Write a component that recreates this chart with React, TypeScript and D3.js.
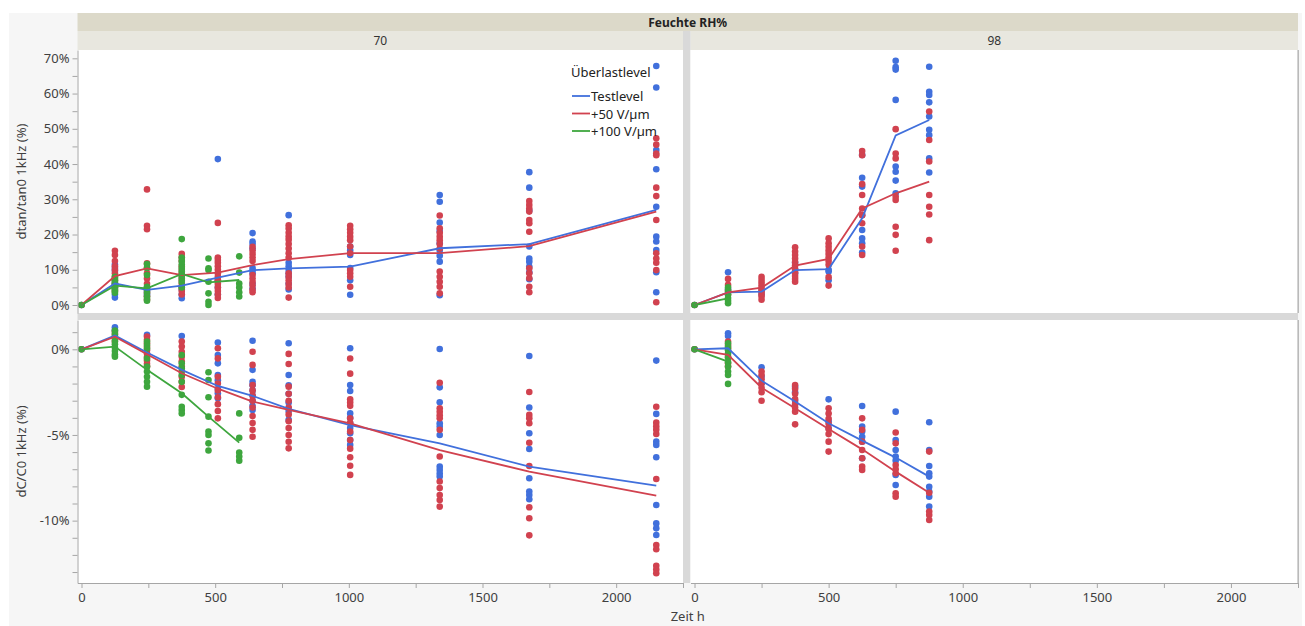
import React, { useEffect, useRef } from "react";
import * as d3 from "d3";

type Group = [number, number[]];
type Pt = [number, number];

// dtan/tan0 1kHz (%), Feuchte 70
const tan70Test: Group[] = [
  [0, [0]],
  [125, [11.5, 10.5, 9.7, 6, 5, 3, 2.1]],
  [245, [5, 4, 3]],
  [375, [4.5, 3, 1.9]],
  [510, [41.4, 7, 5, 3]],
  [640, [20.4, 18, 17.3, 16, 10.5, 9.8, 9, 6, 4.7]],
  [775, [25.5, 12, 11, 10, 9, 8, 6, 4.4]],
  [1005, [16.6, 15.5, 14.2, 10.5, 7, 2.9]],
  [1340, [31.2, 29.3, 23.4, 21, 17.5, 15.5, 14, 12.3, 2.8]],
  [1675, [37.7, 33.3, 26.8, 16.6, 13.2, 12.3, 10.9, 9.3, 7.3]],
  [2150, [67.8, 61.7, 44, 38.5, 27.9, 19.4, 18, 15.6, 9.3, 3.6]],
];
const tan70Plus50: Group[] = [
  [0, [0]],
  [125, [15.4, 14.2, 12.5, 11, 10, 9, 8, 7, 6, 5, 4]],
  [245, [32.8, 22.5, 21.5, 11.8, 10.5, 9, 7.5, 6, 4.5, 3.5, 2.5, 1.5]],
  [375, [14.5, 13.5, 12.5, 11, 10, 9, 8, 7, 6, 5, 4, 3]],
  [510, [23.3, 13.5, 12.8, 12, 11, 10, 9, 8, 7, 6, 5, 4, 3, 2]],
  [640, [16.5, 15.5, 14.5, 13.5, 12.5, 8.5, 7.5, 6.5, 5.5, 4.3, 3.6]],
  [775, [22.6, 21.7, 20.5, 19.4, 18.5, 17.3, 16, 14.7, 13.5, 9, 8, 7, 6, 5, 2.1]],
  [1005, [22.5, 21.5, 20.5, 19.4, 18.4, 16.6, 14.7, 9.9, 9, 8, 5.2]],
  [1340, [25.4, 21.8, 20.5, 19.4, 18.4, 17.3, 16, 9.5, 8, 6.6, 5.2, 3.3]],
  [1675, [29.5, 28.4, 27.4, 26.5, 24.1, 23.2, 20.8, 10.4, 9, 7.6, 5.2, 3.6]],
  [2150, [47.3, 45.5, 43, 42.5, 33.3, 30.9, 24.1, 14.7, 13.2, 12, 9.9, 0.8]],
];
const tan70Plus100: Group[] = [
  [0, [0]],
  [125, [8, 7.5, 7, 6.5, 6, 5.5, 5, 4.5, 4, 3.5]],
  [245, [11.6, 10.5, 8.5, 5.2, 4.5, 3.5, 2.5, 1.8, 1.2]],
  [375, [18.7, 13.5, 12.5, 11.5, 10.5, 9.5, 8.5, 7.5, 6.5, 5]],
  [475, [13.2, 10.4, 9.9, 6.6, 3.3, 0.9, 0]],
  [590, [13.8, 9.2, 6.1, 5, 3.6, 2.4]],
];
const tan70TestMean: Pt[] = [[0, 0], [125, 6.1], [245, 4.3], [375, 5.5], [510, 7.8], [640, 9.9], [775, 10.4], [1005, 10.9], [1340, 16.1], [1675, 17.3], [2150, 27]];
const tan70Plus50Mean: Pt[] = [[0, 0], [125, 8.2], [245, 10.4], [375, 8.5], [510, 9.2], [640, 11.3], [775, 13], [1005, 14.7], [1340, 14.7], [1675, 16.7], [2150, 26.5]];
const tan70Plus100Mean: Pt[] = [[0, 0], [125, 5.5], [245, 4.7], [375, 8.8], [475, 6.4], [590, 7.1]];

// dtan/tan0 1kHz (%), Feuchte 98
const tan98Test: Group[] = [
  [0, [0]],
  [125, [9.3, 4.5]],
  [250, [4, 3]],
  [375, [12, 10, 9]],
  [500, [10, 9.5, 7]],
  [625, [42.6, 36.1, 33.6, 25.5, 21.3, 18.9, 17.5, 14.9]],
  [750, [69.3, 67.5, 66.8, 58.2, 39.3, 37.8, 35.3, 31.7]],
  [875, [67.6, 60.5, 59.6, 57.5, 53.5, 49.7, 48.2, 41.6, 37.6]],
];
const tan98Plus50: Group[] = [
  [0, [0]],
  [125, [7.4, 5.7, 4, 3]],
  [250, [8, 7.2, 6.4, 5.6, 4.8, 4, 3.2, 2.4, 1.5]],
  [375, [16.4, 15.2, 14.2, 13.2, 12.2, 11.2, 10.2, 9.2, 8.2, 7.4, 6.6]],
  [500, [18.9, 17.5, 16.5, 15.5, 14.5, 13.5, 12.5, 11.4, 7.9, 5.5]],
  [625, [43.7, 42.5, 34.3, 31.2, 27.4, 25.5, 23.2, 16.6, 14.2]],
  [750, [49.9, 43, 41.6, 30.7, 29.8, 22.2, 19.9, 15.4]],
  [875, [54.9, 46.8, 40.7, 31.2, 27.9, 25.7, 18.4]],
];
const tan98Plus100: Group[] = [
  [0, [0]],
  [125, [5, 4, 3, 2, 1.2, 0.5]],
];
const tan98TestMean: Pt[] = [[0, 0], [125, 3.6], [250, 3.8], [375, 9.9], [500, 10.2], [625, 24.6], [750, 48.1], [875, 52.5]];
const tan98Plus50Mean: Pt[] = [[0, 0], [125, 3.6], [250, 4.9], [375, 11.2], [500, 13.1], [625, 27.4], [750, 31.7], [875, 35]];
const tan98Plus100Mean: Pt[] = [[0, 0], [125, 1.9]];

// dC/C0 1kHz (%), Feuchte 70
const dc70Test: Group[] = [
  [0, [0]],
  [125, [1.28, 1.13]],
  [245, [0.84]],
  [375, [0.78]],
  [510, [0.39, -0.33, -0.82, -1.5, -1.8, -2.3, -2.57, -2.86]],
  [640, [0.5, -1.2, -1.89, -2.1, -2.4, -2.7, -3.0, -3.3, -3.54]],
  [775, [0.35, -1.5, -2.1, -2.6, -3.1, -3.6, -4.12]],
  [1005, [0.06, -2.08, -2.43, -3.74, -4.0, -4.3, -4.6, -4.9, -5.3, -5.58]],
  [1340, [0.02, -2.22, -3.09, -4.32, -4.5, -5.0, -6.85, -7.05, -7.25, -7.43]],
  [1675, [-0.39, -3.4, -4.9, -5.82, -7.53, -8.3, -8.5, -8.75]],
  [2150, [-0.66, -3.77, -5.39, -5.58, -6.3, -9.09, -10.16, -10.45, -10.84]],
];
const dc70Plus50: Group[] = [
  [0, [0]],
  [125, [1.03, 0.85, 0.65, 0.45]],
  [245, [0.74, 0.55, 0.35, 0.15, -0.05, -0.25, -0.45, -0.65, -0.85, -1.0]],
  [375, [0.45, 0.16, -0.14, -0.43, -0.7, -1.0, -1.3, -1.6, -1.9, -2.2]],
  [510, [0.06, -0.53, -1.6, -2.0, -2.4, -2.8, -3.2, -3.6, -4.03]],
  [640, [-0.14, -0.91, -2.08, -2.4, -2.7, -3.0, -3.4, -3.9, -4.3, -4.7, -5.1]],
  [775, [-0.27, -0.86, -2.18, -2.6, -3.0, -3.4, -3.8, -4.2, -4.6, -5.0, -5.4, -5.78]],
  [1005, [-0.54, -1.42, -2.92, -3.1, -3.3, -4.03, -4.3, -4.8, -5.3, -5.8, -6.3, -6.8, -7.33]],
  [1340, [-1.95, -3.44, -3.65, -3.85, -4.03, -4.7, -6.26, -7.72, -8.1, -8.5, -8.8, -9.18]],
  [1675, [-2.49, -3.83, -4.03, -4.32, -5.45, -6.81, -9.22, -9.86, -10.86]],
  [2150, [-3.35, -4.28, -4.5, -4.7, -4.94, -7.57, -11.42, -11.67, -12.63, -12.85, -13.07]],
];
const dc70Plus100: Group[] = [
  [0, [0]],
  [125, [1.1, 0.9, 0.7, 0.5, 0.3, 0.1, -0.1, -0.3, -0.43]],
  [245, [0.45, 0.25, 0.05, -0.53, -1.0, -1.3, -1.6, -1.9, -2.18]],
  [375, [-0.33, -0.82, -1.1, -1.5, -1.9, -2.66, -3.35, -3.54, -3.74]],
  [475, [-1.34, -1.79, -2.8, -3.93, -4.8, -5.0, -5.49, -5.91]],
  [590, [-3.74, -5.16, -6.03, -6.26, -6.5]],
];
const dc70TestMean: Pt[] = [[0, 0], [125, 0.8], [245, -0.19], [375, -1.2], [510, -2.14], [640, -2.72], [775, -3.48], [1005, -4.42], [1340, -5.49], [1675, -6.85], [2150, -7.96]];
const dc70Plus50Mean: Pt[] = [[0, 0], [125, 0.74], [245, -0.29], [375, -1.4], [510, -2.3], [640, -3.05], [775, -3.54], [1005, -4.32], [1340, -5.88], [1675, -7.14], [2150, -8.54]];
const dc70Plus100Mean: Pt[] = [[0, 0], [125, 0.16], [245, -1.2], [375, -2.57], [475, -3.93], [590, -5.45]];

// dC/C0 1kHz (%), Feuchte 98
const dc98Test: Group[] = [
  [0, [0]],
  [125, [0.93, 0.78]],
  [250, [-1.05, -1.6, -2.0]],
  [375, [-2.18, -2.5, -3.0]],
  [500, [-2.92, -4.2, -4.6]],
  [625, [-3.31, -4.51, -4.8, -5.1, -5.4, -6.36]],
  [750, [-3.64, -5.29, -5.88, -6.26, -6.5, -7.33, -7.92]],
  [875, [-4.26, -5.88, -6.81, -7.24, -7.43, -8.02, -8.3, -8.6, -9.18]],
];
const dc98Plus50: Group[] = [
  [0, [0]],
  [125, [0.45, 0.25, 0.06, -0.43, -0.82, -1.0]],
  [250, [-1.3, -1.5, -1.75, -2.0, -2.25, -2.5, -3.0]],
  [375, [-2.08, -2.3, -2.6, -2.9, -3.2, -3.4, -3.64, -4.38]],
  [500, [-3.44, -3.75, -4.05, -4.35, -4.65, -4.95, -5.39, -5.97]],
  [625, [-4.03, -4.7, -5.39, -5.88, -6.36, -6.85, -7.04]],
  [750, [-4.86, -5.49, -6.75, -7.0, -7.24, -8.4, -8.6]],
  [875, [-5.97, -8.37, -9.47, -9.67, -9.96]],
];
const dc98Plus100: Group[] = [
  [0, [0]],
  [125, [0.35, 0.15, -0.05, -0.25, -0.5, -0.75, -1.0, -1.3, -1.5, -2.02]],
];
const dc98TestMean: Pt[] = [[0, 0], [125, 0.06], [250, -1.83], [375, -3.05], [500, -4.32], [625, -5.33], [750, -6.32], [875, -7.43]];
const dc98Plus50Mean: Pt[] = [[0, 0], [125, -0.33], [250, -2.24], [375, -3.44], [500, -4.65], [625, -5.84], [750, -7.14], [875, -8.37]];
const dc98Plus100Mean: Pt[] = [[0, 0], [125, -0.72]];

const levels = ["Testlevel", "+50 V/µm", "+100 V/µm"];
const levelColors = ["#4170dc", "#d1424f", "#3ea63e"];
const humidity = ["70", "98"];
const rowLabels = ["dtan/tan0 1kHz (%)", "dC/C0 1kHz (%)"];

const FONT = "'Segoe UI', 'Noto Sans', sans-serif";

const App = () => {
  const chartRef = useRef<SVGSVGElement>(null);

  useEffect(() => {
    const width = 1305;
    const height = 626;
    const colX = [[77.5, 683], [690.5, 1298]];
    const rowY = [[50, 313], [320, 583]];
    const axisColor = "#a6a6a6";
    const textColor = "#404040";

    const svg = d3.select(chartRef.current);
    svg.selectAll("*").remove();
    svg.attr("width", width).attr("height", height);

    // background
    svg.append("rect").attr("x", 9).attr("y", 13).attr("width", 1293).attr("height", 613).attr("fill", "#f6f6f6");

    // header bands
    svg.append("rect").attr("x", 77.5).attr("y", 13).attr("width", 1298 - 77.5).attr("height", 18).attr("fill", "#dcd9c9");
    svg.append("text").attr("x", (77.5 + 1298) / 2).attr("y", 22).attr("text-anchor", "middle")
      .attr("dominant-baseline", "central").style("font-family", FONT).style("font-size", "12px")
      .style("font-weight", "bold").attr("fill", "#222").text("Feuchte RH%");
    humidity.forEach((h, c) => {
      svg.append("rect").attr("x", colX[c][0]).attr("y", 31).attr("width", colX[c][1] - colX[c][0]).attr("height", 19).attr("fill", "#e8e7df");
      svg.append("text").attr("x", (colX[c][0] + colX[c][1]) / 2).attr("y", 40.5).attr("text-anchor", "middle")
        .attr("dominant-baseline", "central").style("font-family", FONT).style("font-size", "12px")
        .attr("fill", "#333").text(h);
    });

    // separators
    svg.append("rect").attr("x", 683).attr("y", 31).attr("width", 7.5).attr("height", 583 - 31).attr("fill", "#d9d9d9");
    svg.append("rect").attr("x", 77.5).attr("y", 313).attr("width", 1298 - 77.5).attr("height", 7).attr("fill", "#d9d9d9");

    const xScales = colX.map((r) => d3.scaleLinear().domain([-15, 2250]).range(r));
    const yScales = [
      d3.scaleLinear().domain([-2.27, 72.36]).range([rowY[0][1], rowY[0][0]]),
      d3.scaleLinear().domain([-13.64, 1.71]).range([rowY[1][1], rowY[1][0]]),
    ];

    const panels = [
      { row: 0, col: 0, groups: [tan70Test, tan70Plus50, tan70Plus100], means: [tan70TestMean, tan70Plus50Mean, tan70Plus100Mean] },
      { row: 0, col: 1, groups: [tan98Test, tan98Plus50, tan98Plus100], means: [tan98TestMean, tan98Plus50Mean, tan98Plus100Mean] },
      { row: 1, col: 0, groups: [dc70Test, dc70Plus50, dc70Plus100], means: [dc70TestMean, dc70Plus50Mean, dc70Plus100Mean] },
      { row: 1, col: 1, groups: [dc98Test, dc98Plus50, dc98Plus100], means: [dc98TestMean, dc98Plus50Mean, dc98Plus100Mean] },
    ];

    panels.forEach((p) => {
      const x = xScales[p.col];
      const y = yScales[p.row];
      const [x0, x1] = colX[p.col];
      const [y0, y1] = rowY[p.row];
      const g = svg.append("g");

      g.append("rect").attr("x", x0).attr("y", y0).attr("width", x1 - x0).attr("height", y1 - y0).attr("fill", "#fff");

      // points
      p.groups.forEach((groups, i) => {
        const pts = groups.flatMap(([t, vals]) => vals.map((v) => [t, v] as Pt));
        g.append("g").selectAll("circle").data(pts).join("circle")
          .attr("cx", (d) => x(d[0])).attr("cy", (d) => y(d[1])).attr("r", 3.3)
          .attr("fill", levelColors[i]);
      });

      // mean lines
      p.means.forEach((m, i) => {
        g.append("path").datum(m).attr("fill", "none").attr("stroke", levelColors[i])
          .attr("stroke-width", 1.8)
          .attr("d", d3.line<Pt>().x((d) => x(d[0])).y((d) => y(d[1])));
      });

      // right frame
      g.append("line").attr("x1", 1298).attr("x2", 1298).attr("y1", y0).attr("y2", y1).attr("stroke", axisColor);
    });

    // y axes
    const yTickSets = [d3.range(0, 71, 5), d3.range(-13, 2, 1)];
    const yMajor = [10, 5];
    yScales.forEach((y, r) => {
      const ax = svg.append("g").attr("transform", `translate(${colX[0][0]},0)`)
        .call(d3.axisLeft(y).tickValues(yTickSets[r]).tickSize(5).tickSizeOuter(0).tickPadding(3)
          .tickFormat((d) => ((d as number) % yMajor[r] === 0 ? `${d}%` : "")));
      ax.select(".domain").attr("stroke", axisColor);
      ax.selectAll(".tick line").attr("stroke", axisColor);
      ax.selectAll("text").style("font-family", FONT).style("font-size", "13px").attr("fill", textColor);

      svg.append("text")
        .attr("transform", `translate(21,${(rowY[r][0] + rowY[r][1]) / 2}) rotate(-90)`)
        .attr("text-anchor", "middle").attr("dominant-baseline", "central")
        .style("font-family", FONT).style("font-size", "13px").attr("fill", textColor)
        .text(rowLabels[r]);
    });

    // x axes
    xScales.forEach((x) => {
      const ax = svg.append("g").attr("transform", `translate(0,${rowY[1][1]})`)
        .call(d3.axisBottom(x).tickValues(d3.range(0, 2251, 250)).tickSize(5).tickSizeOuter(0).tickPadding(5)
          .tickFormat((d) => ((d as number) % 500 === 0 ? `${d}` : "")));
      ax.select(".domain").attr("stroke", axisColor);
      ax.selectAll(".tick line").attr("stroke", axisColor);
      ax.selectAll("text").style("font-family", FONT).style("font-size", "13px").attr("fill", textColor);
    });

    svg.append("text").attr("x", (77.5 + 1298) / 2).attr("y", 616).attr("text-anchor", "middle")
      .attr("dominant-baseline", "central").style("font-family", FONT).style("font-size", "13px")
      .attr("fill", textColor).text("Zeit h");

    // legend
    const lg = svg.append("g").attr("transform", "translate(571,0)");
    lg.append("text").attr("x", 0).attr("y", 72).attr("dominant-baseline", "central")
      .style("font-family", FONT).style("font-size", "13px").attr("fill", "#222").text("Überlastlevel");
    levels.forEach((l, i) => {
      const yy = 96 + i * 17.5;
      lg.append("line").attr("x1", 1).attr("x2", 19).attr("y1", yy).attr("y2", yy)
        .attr("stroke", levelColors[i]).attr("stroke-width", 1.8);
      lg.append("text").attr("x", 20).attr("y", yy).attr("dominant-baseline", "central")
        .style("font-family", FONT).style("font-size", "13px").attr("fill", "#222").text(l);
    });
  }, []);

  return (
    <div style={{ position: "absolute", left: 0, top: 0 }}>
      <svg ref={chartRef}></svg>
    </div>
  );
};

export default App;
